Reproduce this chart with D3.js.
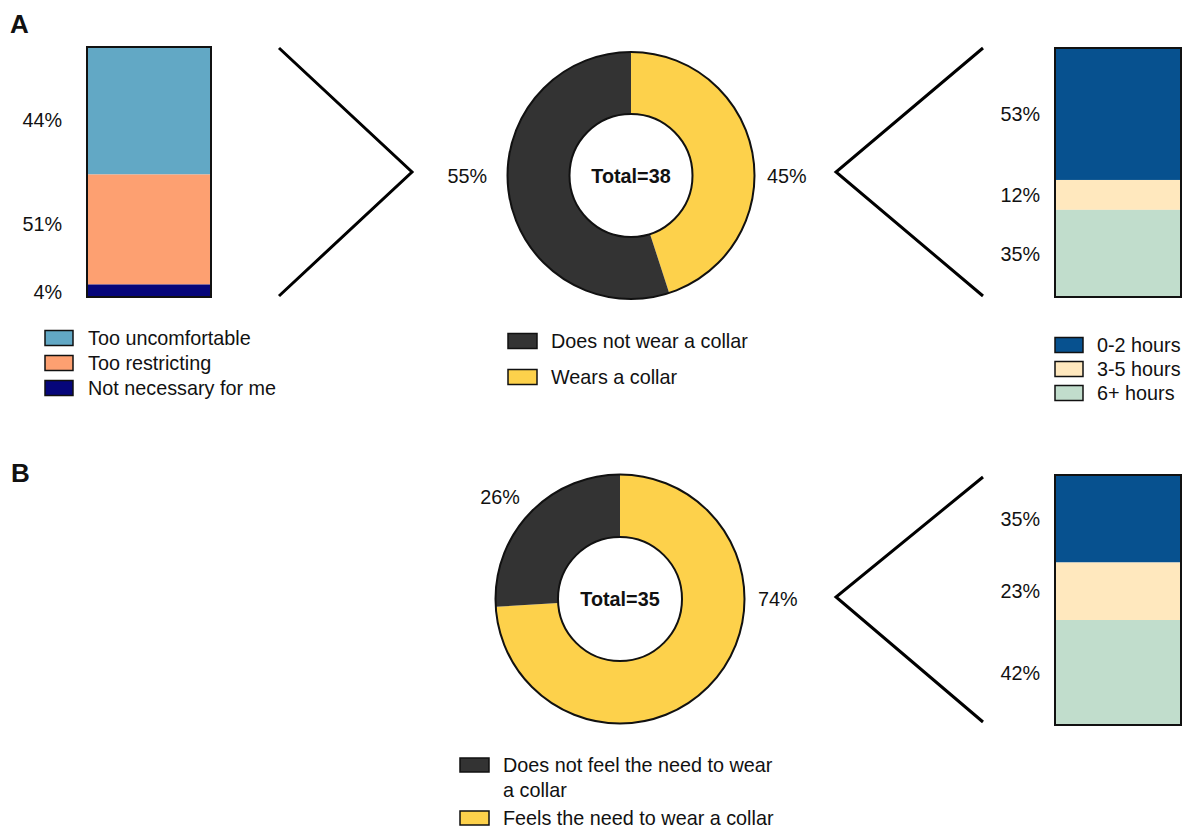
<!DOCTYPE html>
<html><head><meta charset="utf-8">
<script src="https://cdn.jsdelivr.net/npm/d3@7"></script>
<style>html,body{margin:0;padding:0;background:#fff;} svg{display:block;font-family:"Liberation Sans",Arial,sans-serif;}</style>
</head><body>
<script>
// ---------- data ----------
const reasonCats = ["Too uncomfortable", "Too restricting", "Not necessary for me"];
const reasonVals = [51, 44, 5];
const reasonLabels = ["44%", "51%", "4%"];

const wearCatsA = ["Wears a collar", "Does not wear a collar"];
const wearValsA = [45, 55];
const wearLabelsA = ["45%", "55%"];
const totalA = "Total=38";

const hourCats = ["0-2 hours", "3-5 hours", "6+ hours"];
const hoursA = [53, 12, 35];
const hoursALabels = ["53%", "12%", "35%"];

const needCatsB = ["Feels the need to wear a collar", "Does not feel the need to wear a collar"];
const needValsB = [74, 26];
const needLabelsB = ["74%", "26%"];
const totalB = "Total=35";

const hoursB = [35, 23, 42];
const hoursBLabels = ["35%", "23%", "42%"];

// ---------- styles ----------
const reasonColors = ["#62A8C5", "#FDA071", "#06067A"];
const donutColors = ["#FDD14B", "#333333"];
const hourColors = ["#07518F", "#FFE8BE", "#C1DDCC"];
const FS = 19.8;

const svg = d3.select("body").append("svg").attr("width", 1182).attr("height", 830);

svg.append("text").attr("x", 10).attr("y", 33).attr("font-size", 26).attr("font-weight", "bold").attr("fill", "#111").text("A");
svg.append("text").attr("x", 11).attr("y", 482).attr("font-size", 26).attr("font-weight", "bold").attr("fill", "#111").text("B");

function stackedBar(x0, x1, y0, y1, vals, colors, labels, labelRight, labelShift) {
  const y = d3.scaleLinear().domain([0, d3.sum(vals)]).range([y0, y1]);
  const cum = d3.cumsum(vals);
  const segs = vals.map((v, i) => ({ a: cum[i] - v, b: cum[i], c: colors[i], l: labels[i], s: labelShift ? labelShift[i] : 0 }));
  const g = svg.append("g");
  g.selectAll("rect.seg").data(segs).join("rect")
    .attr("x", x0).attr("width", x1 - x0)
    .attr("y", d => y(d.a)).attr("height", d => y(d.b) - y(d.a))
    .attr("fill", d => d.c);
  g.append("rect").attr("x", x0).attr("y", y0).attr("width", x1 - x0).attr("height", y1 - y0)
    .attr("fill", "none").attr("stroke", "#111").attr("stroke-width", 2);
  g.selectAll("text").data(segs).join("text")
    .attr("x", labelRight).attr("y", d => (y(d.a) + y(d.b)) / 2 + d.s).attr("dy", "0.36em")
    .attr("text-anchor", "end").attr("font-size", FS).attr("fill", "#111").text(d => d.l);
}

function bracket(pts) {
  svg.append("path").attr("d", d3.line()(pts)).attr("fill", "none")
    .attr("stroke", "#000").attr("stroke-width", 3).attr("stroke-linejoin", "miter");
}

function donut(cx, cy, rIn, rOut, vals, colors, total, labelPos) {
  const g = svg.append("g").attr("transform", `translate(${cx},${cy})`);
  const pie = d3.pie().sort(null)(vals);
  const arc = d3.arc().innerRadius(rIn).outerRadius(rOut);
  g.selectAll("path").data(pie).join("path").attr("d", arc).attr("fill", (d, i) => colors[i]);
  g.append("circle").attr("r", rOut).attr("fill", "none").attr("stroke", "#111").attr("stroke-width", 2);
  g.append("circle").attr("r", rIn).attr("fill", "none").attr("stroke", "#111").attr("stroke-width", 2);
  g.append("text").attr("text-anchor", "middle").attr("dy", "0.36em").attr("font-size", FS)
    .attr("font-weight", "bold").attr("fill", "#111").text(total);
  labelPos.forEach(p => {
    g.append("text").attr("x", p.dx).attr("y", p.dy).attr("dy", "0.36em").attr("text-anchor", p.anchor)
      .attr("font-size", FS).attr("fill", "#111").text(p.t);
  });
}

function legend(x, y0, step, cats, colors, w, h, textX, wrap) {
  const g = svg.append("g");
  cats.forEach((c, i) => {
    const yy = y0 + i * step;
    g.append("rect").attr("x", x).attr("y", yy - h / 2).attr("width", w).attr("height", h)
      .attr("fill", colors[i]).attr("stroke", "#111").attr("stroke-width", 1.5);
    const lines = wrap && wrap[i] ? wrap[i] : [c];
    lines.forEach((ln, j) => {
      g.append("text").attr("x", textX).attr("y", yy + j * 25).attr("dy", "0.36em")
        .attr("font-size", FS).attr("fill", "#111").text(ln);
    });
  });
}

// ---------- Panel A ----------
stackedBar(87, 211, 47, 297, reasonVals, reasonColors, reasonLabels, 62, [9, -6, 1]);
legend(45, 338, 25, reasonCats, reasonColors, 28, 15, 88);

bracket([[279, 48], [412, 172], [279, 296]]);

donut(631, 175.5, 61.5, 123.5, wearValsA, donutColors, totalA, [
  { t: wearLabelsA[0], dx: 136, dy: 0, anchor: "start" },
  { t: wearLabelsA[1], dx: -144, dy: 0, anchor: "end" }
]);
legend(508, 341, 36, [wearCatsA[1], wearCatsA[0]], [donutColors[1], donutColors[0]], 29, 15, 551);

bracket([[983, 48], [836, 172], [983, 296]]);
stackedBar(1055, 1181, 48, 297, hoursA, hourColors, hoursALabels, 1040);
legend(1055, 345, 24, hourCats, hourColors, 28, 15, 1097);

// ---------- Panel B ----------
donut(620, 599, 62, 124.5, needValsB, donutColors, totalB, [
  { t: needLabelsB[0], dx: 138, dy: 0, anchor: "start" },
  { t: needLabelsB[1], dx: -120, dy: -102, anchor: "middle" }
]);
legend(460, 765, 53, [needCatsB[1], needCatsB[0]], [donutColors[1], donutColors[0]], 29, 14, 503,
  [["Does not feel the need to wear", "a collar"], null]);

bracket([[983, 477], [836, 597], [983, 722]]);
stackedBar(1055, 1181, 475, 725, hoursB, hourColors, hoursBLabels, 1040);
</script>
</body></html>
